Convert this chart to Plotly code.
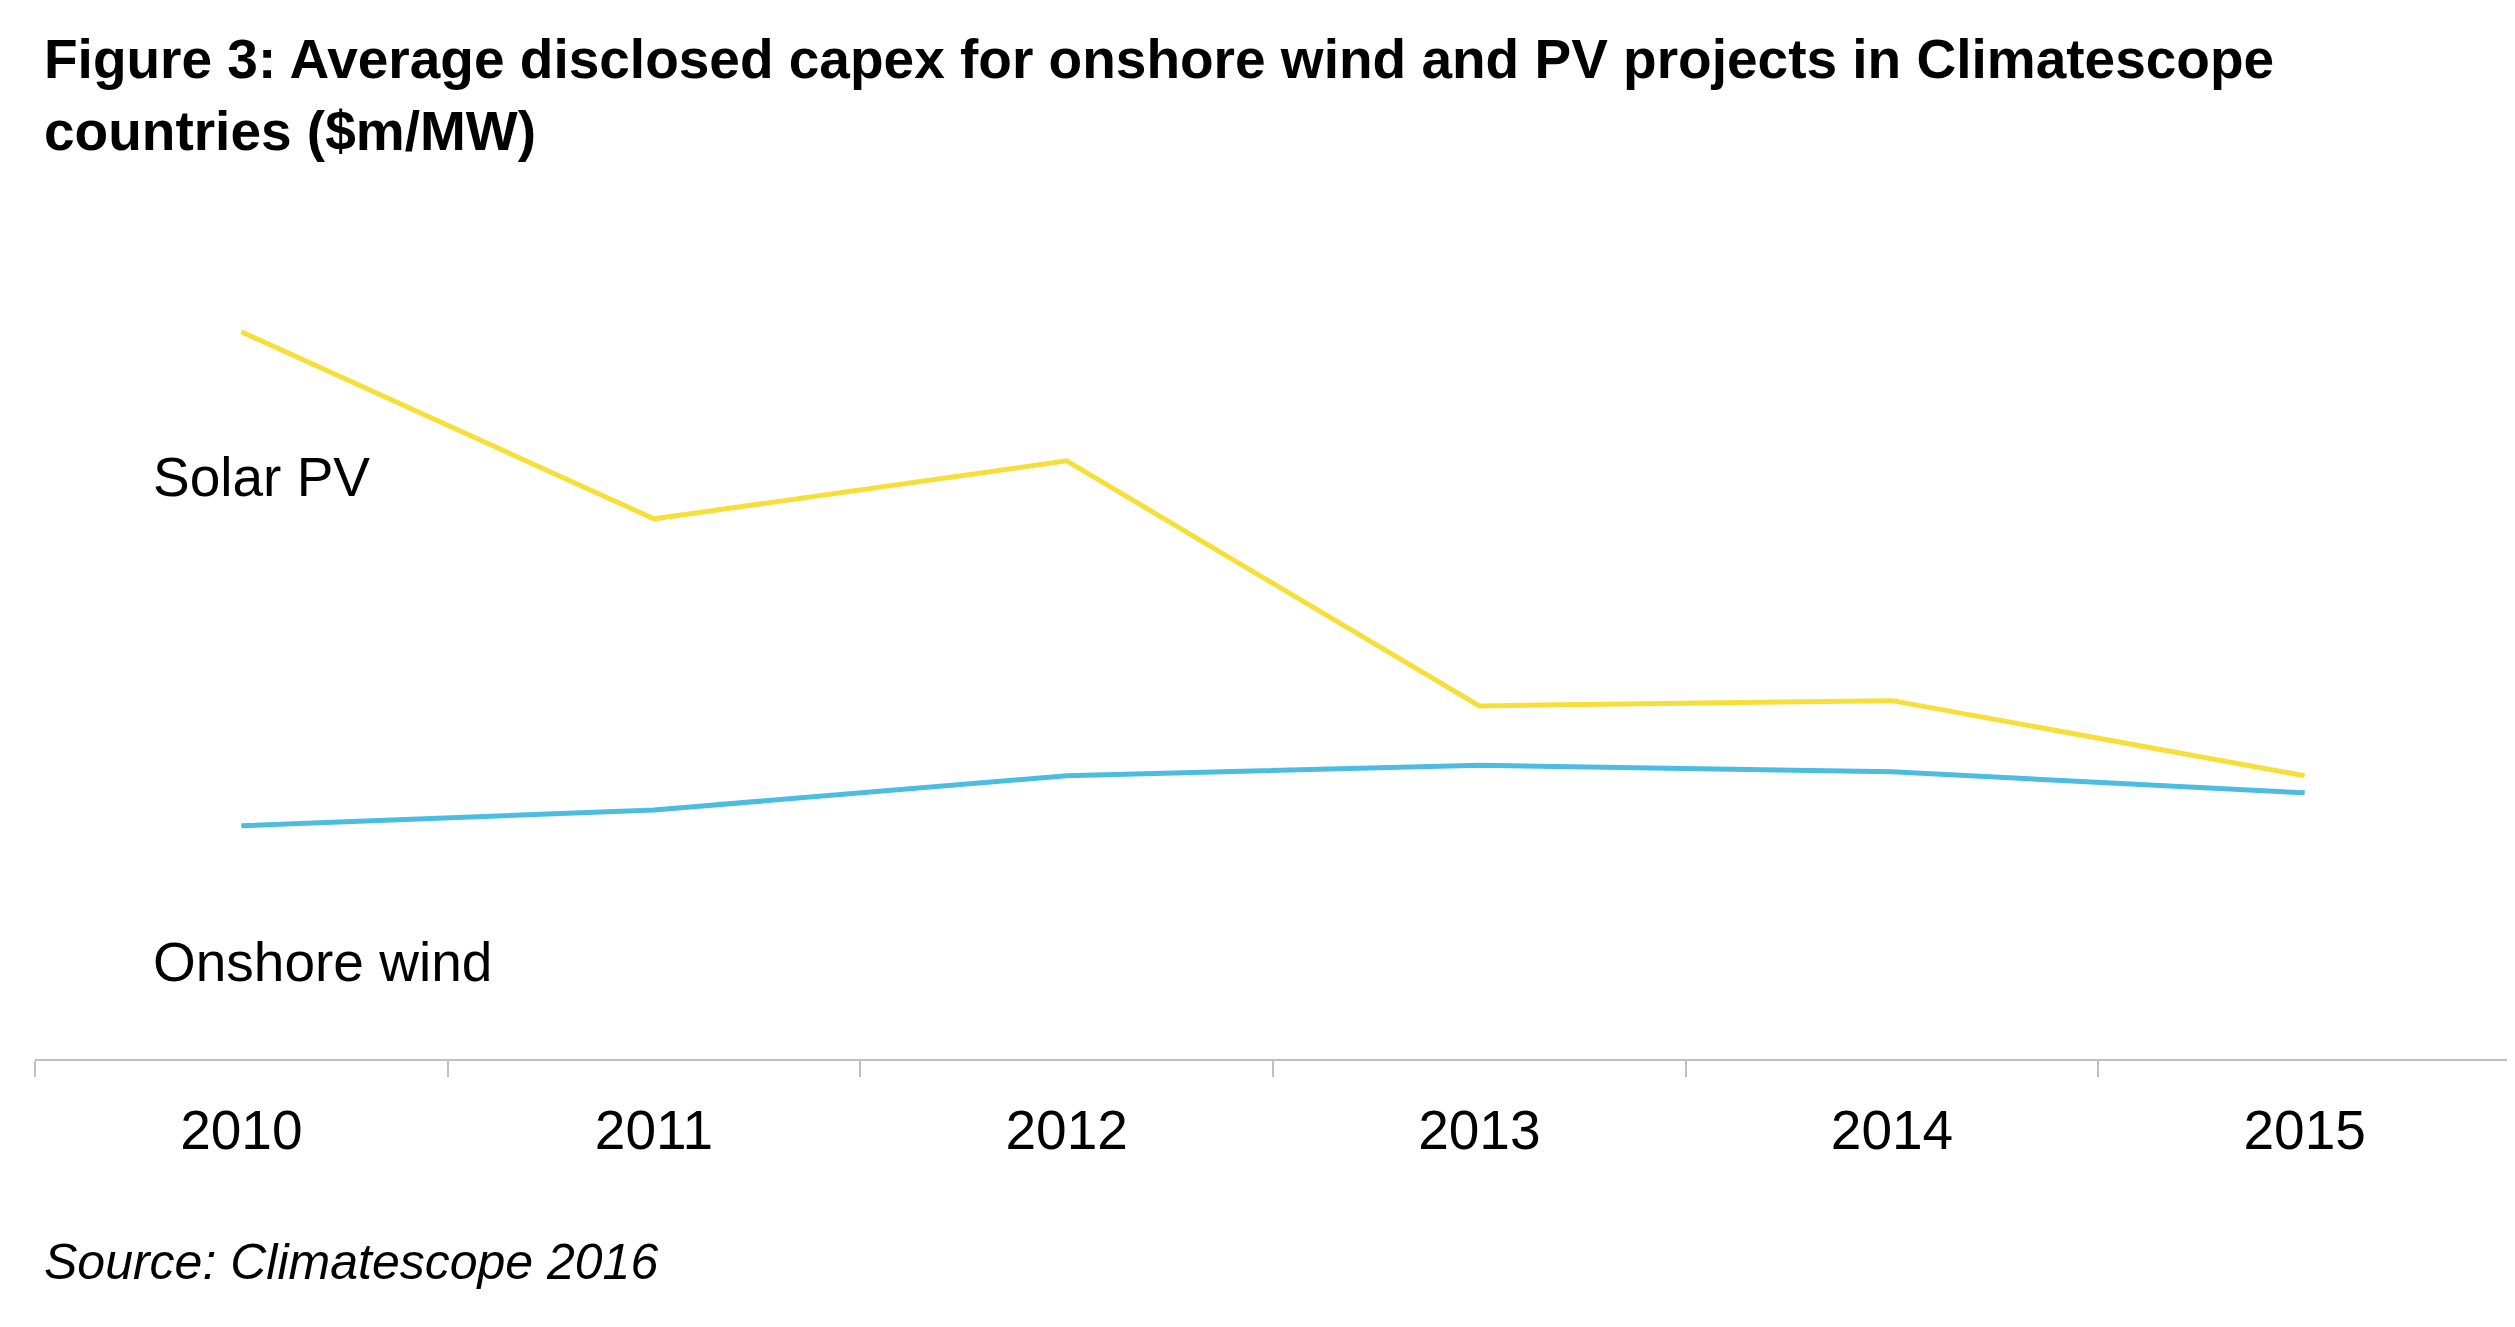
import plotly.graph_objects as go

years = ['2010', '2011', '2012', '2013', '2014', '2015']
solar_pv = [5.52, 4.10, 4.54, 2.68, 2.72, 2.15]
onshore_wind = [1.77, 1.89, 2.15, 2.23, 2.18, 2.02]

FONT = 'Liberation Sans, Arial, sans-serif'
LABEL = dict(family=FONT, size=55, color='black')

traces = [
    go.Scatter(name='Solar PV', x=years, y=solar_pv, mode='lines',
               line=dict(color='#F7DF3A', width=5)),
    go.Scatter(name='Onshore wind', x=years, y=onshore_wind, mode='lines',
               line=dict(color='#4CBDE0', width=5)),
]

# value labels, offset above (solar) / below (wind) the lines
labels = []
for x, v in zip(years, solar_pv):
    labels.append(dict(text=f'{v:.2f}', x=x, y=v, yshift=46, showarrow=False, font=LABEL))
for x, v in zip(years, onshore_wind):
    labels.append(dict(text=f'{v:.2f}', x=x, y=v, yshift=-48, showarrow=False, font=LABEL))

layout = go.Layout(
    width=2515, height=1327,
    margin=dict(l=27, r=12, t=221, b=276),
    plot_bgcolor='white', paper_bgcolor='white',
    showlegend=False,
    font=dict(family=FONT, color='black'),
    xaxis=dict(
        type='category', showgrid=False, showline=True, linecolor='#BFBFBF', linewidth=2,
        ticks='outside', tickson='boundaries', ticklen=16, tickcolor='#BFBFBF', tickwidth=2,
        tickfont=dict(family=FONT, size=55), ticklabelstandoff=22, range=[-0.5, 5.5],
    ),
    yaxis=dict(visible=False, range=[0, 6.3]),
    annotations=labels + [
        dict(text='<b>Figure 3: Average disclosed capex for onshore wind and PV projects in Climatescope<br>countries ($m/MW)</b>',
             xref='paper', yref='paper', x=0.003, y=1.245, xanchor='left', yanchor='top',
             align='left', showarrow=False, font=dict(family=FONT, size=55)),
        dict(text='Solar PV', xref='paper', yref='y', x=0.047, y=4.42, xanchor='left',
             showarrow=False, font=LABEL),
        dict(text='Onshore wind', xref='paper', yref='y', x=0.047, y=0.74, xanchor='left',
             showarrow=False, font=LABEL),
        dict(text='<i>Source: Climatescope 2016</i>', xref='paper', yref='paper', x=0.003, y=-0.245,
             xanchor='left', yanchor='middle', showarrow=False, font=dict(family=FONT, size=50)),
    ],
)

fig = go.Figure(traces, layout=layout)
fig.write_html('out.html')
